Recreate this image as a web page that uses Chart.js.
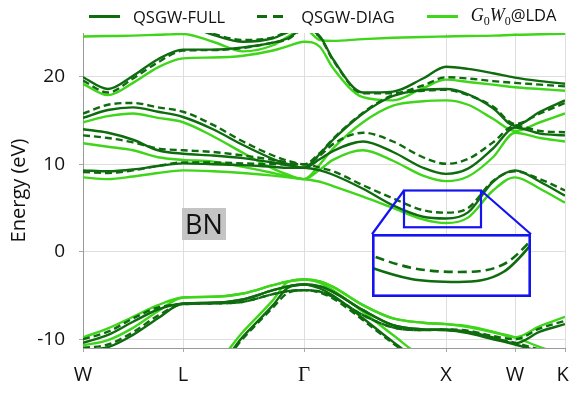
<!DOCTYPE html>
<html>
<head>
<meta charset="utf-8">
<script src="https://cdn.jsdelivr.net/npm/chart.js@4.4.1/dist/chart.umd.min.js"></script>
<style>
body { margin: 0; background: #fff; }
#wrap { position: relative; width: 569px; height: 393px; overflow: hidden; }
#legend { position: absolute; left: 89px; top: 4px; height: 24px; display: flex; align-items: center;
  font-family: "Open Sans", sans-serif; font-size: 16.5px; color: #111; white-space: nowrap; }
#legend .item { display: flex; align-items: center; margin-right: 32px; }
#legend .swatch { width: 31px; height: 3px; margin-right: 13px; }
#legend i { font-family: "Liberation Serif", serif; font-size: 18px; }
#legend sub { font-family: "Liberation Serif", serif; font-size: 12px; }
#bn { position: absolute; left: 182px; top: 208px; width: 44px; height: 32px; background: #c4c4c4;
  font-family: "Open Sans", sans-serif; font-size: 27px; line-height: 32px; text-align: center; color: #111; }
#inset { position: absolute; background: #fff; }
</style>
</head>
<body>
<div id="wrap">
  <canvas id="c" width="569" height="393"></canvas>
  <div id="legend"></div>
  <div id="bn">BN</div>
  <div id="inset"><canvas id="ci"></canvas></div>
</div>
<script>
// k-path positions (arbitrary path units) and high symmetry points
var kPos = [0, 25, 50, 75, 100, 130, 160, 190, 205, 221, 237, 250, 280, 310, 340, 363, 385, 410, 432, 457, 482];
var kTicks = [0, 100, 221, 363, 432, 482];
var kLabels = ['W', 'L', 'Γ', 'X', 'W', 'K'];
var eTicks = [-10, 0, 10, 20];

// QSGW-FULL bands (eV)
var fullVB1 = [-12.0, -12.6, -13.2, -13.6, -13.8, -13.5, -9.7, -6.1, -4.1, -3.75, -4.2, -5.0, -7.6, -10.3, -12.6, -13.0, -12.6, -12.0, -11.6, -12.0, -12.4];
var fullVB2 = [-11.2, -10.9, -9.5, -7.6, -5.91, -5.83, -5.45, -4.39, -3.95, -3.74, -3.95, -4.58, -6.67, -8.38, -8.87, -8.95, -9.3, -10.0, -10.6, -11.4, -12.0];
var fullVB3 = [-10.4, -9.5, -8.0, -6.6, -5.91, -5.83, -5.45, -4.39, -3.95, -3.74, -3.95, -4.58, -6.67, -8.38, -8.87, -8.95, -9.14, -9.79, -10.47, -9.14, -8.27];
var fullCB1 = [9.3, 9.2, 9.4, 9.8, 10.1, 10.0, 9.9, 9.7, 9.6, 9.6, 9.3, 8.8, 7.2, 5.3, 4.0, 3.8, 4.5, 8.0, 9.3, 8.0, 6.4];
var fullCB2 = [14.0, 13.6, 12.8, 11.6, 11.2, 11.0, 10.7, 10.2, 9.9, 9.6, 10.6, 11.5, 12.6, 11.4, 9.6, 8.9, 9.5, 11.8, 14.2, 13.5, 13.3];
var fullCB3 = [15.3, 16.2, 16.5, 16.0, 15.4, 14.0, 12.2, 10.6, 10.0, 9.6, 11.2, 12.8, 15.8, 17.8, 18.5, 18.6, 18.0, 16.4, 14.4, 16.0, 17.3];
var fullCB4 = [19.94, 18.6, 20.1, 22.0, 23.1, 23.1, 23.36, 23.9, 24.4, 25.5, 24.6, 22.0, 18.2, 18.3, 19.8, 21.15, 20.9, 20.4, 19.9, 19.5, 19.2];
var fullCB5 = [27.0, 26.8, 26.6, 26.3, 26.0, 24.8, 24.0, 24.4, 25.1, 25.8, 26.5, 27.0, 27.5, 27.5, 27.5, 27.5, 27.5, 27.5, 27.5, 27.5, 27.5];

// QSGW-DIAG bands (eV)
var diagVB1 = [-12.2, -12.8, -13.4, -13.8, -14.0, -13.7, -9.9, -6.37, -4.69, -4.39, -4.69, -5.34, -7.81, -10.47, -12.75, -13.2, -12.8, -12.2, -11.8, -12.2, -12.6];
var diagVB2 = [-11.0, -10.6, -9.2, -7.3, -5.99, -5.91, -5.72, -4.85, -4.5, -4.39, -4.55, -5.15, -7.24, -8.65, -8.95, -8.87, -9.2, -9.9, -10.4, -11.2, -11.9];
var diagVB3 = [-10.0, -9.14, -7.62, -6.37, -5.99, -5.91, -5.72, -4.85, -4.5, -4.39, -4.55, -5.15, -7.24, -8.65, -8.95, -8.87, -9.03, -9.64, -10.0, -8.76, -7.89];
var diagCB1 = [9.1, 9.0, 9.3, 9.8, 10.2, 10.2, 10.1, 10.0, 10.0, 10.0, 9.6, 9.2, 7.6, 6.1, 4.75, 4.47, 5.0, 8.1, 9.2, 8.3, 7.0];
var diagCB2 = [13.3, 13.0, 12.5, 11.8, 11.6, 11.4, 11.0, 10.5, 10.2, 10.0, 11.0, 12.3, 13.6, 12.6, 10.8, 10.05, 10.6, 12.5, 14.4, 13.8, 13.66];
var diagCB3 = [15.8, 16.8, 17.0, 16.5, 16.0, 14.5, 12.6, 11.0, 10.4, 10.0, 11.3, 12.9, 15.9, 17.9, 18.4, 18.5, 17.9, 16.6, 14.6, 15.8, 17.0];
var diagCB4 = [19.56, 18.2, 19.8, 21.65, 22.98, 23.05, 23.3, 23.9, 24.3, 25.4, 24.5, 21.9, 18.1, 18.1, 19.0, 19.94, 19.8, 19.5, 19.3, 19.1, 18.9];
var diagCB5 = [27.0, 26.8, 26.6, 26.3, 26.0, 24.9, 24.2, 24.5, 25.2, 25.8, 26.5, 27.0, 27.5, 27.5, 27.5, 27.5, 27.5, 27.5, 27.5, 27.5, 27.5];

// G0W0@LDA bands (eV)
var gwVB1 = [-11.6, -12.2, -12.8, -13.2, -13.4, -12.9, -9.14, -5.53, -3.44, -3.17, -3.55, -4.39, -6.86, -9.52, -12.0, -12.5, -12.1, -11.5, -11.1, -11.5, -11.9];
var gwVB2 = [-10.7, -10.1, -8.7, -6.8, -5.23, -5.15, -4.77, -3.82, -3.4, -3.17, -3.4, -4.01, -6.10, -7.62, -8.11, -8.27, -8.6, -9.2, -9.79, -10.9, -11.8];
var gwVB3 = [-9.79, -8.76, -7.43, -6.10, -5.23, -5.15, -4.77, -3.82, -3.4, -3.17, -3.4, -4.01, -6.10, -7.62, -8.11, -8.27, -8.50, -9.14, -9.79, -8.50, -7.43];
var gwCB1 = [8.5, 8.3, 8.6, 9.0, 9.3, 9.2, 9.0, 8.7, 8.5, 8.3, 8.0, 7.5, 6.3, 5.0, 3.7, 3.28, 3.9, 7.0, 8.5, 7.2, 5.6];
var gwCB2 = [12.4, 12.0, 11.6, 10.8, 10.5, 10.3, 9.7, 9.0, 8.6, 8.3, 9.4, 10.5, 11.6, 10.4, 8.7, 8.07, 8.6, 10.8, 13.6, 13.0, 12.6];
var gwCB3 = [14.8, 15.5, 15.8, 15.3, 14.8, 13.2, 11.3, 9.5, 8.8, 8.3, 10.0, 11.8, 14.8, 16.7, 17.2, 17.3, 16.8, 15.2, 13.8, 14.8, 15.8];
var gwCB4 = [19.18, 17.9, 19.3, 21.08, 22.1, 22.2, 22.4, 23.0, 23.5, 24.0, 23.4, 21.0, 17.66, 17.3, 18.7, 19.67, 19.4, 19.1, 18.8, 18.6, 18.4];
var gwCB5 = [24.6, 24.65, 24.7, 24.8, 24.88, 24.0, 22.9, 23.6, 24.6, 25.5, 24.2, 24.1, 24.3, 24.45, 24.55, 24.6, 24.65, 24.7, 24.8, 24.85, 24.9];

// zoom window [kMin, kMax, eMin, eMax] and where the magnified copy sits
var zoomBox = [321, 398, 2.8, 7.0];
var insetBox = [289, 448, -5.2, 2.0];

var darkGreen = '#0e6b0e';
var lightGreen = '#3fd51a';
var boxBlue = '#1414f0';

var seriesList = [
  { name: 'QSGW-FULL', color: darkGreen, dash: [],
    bands: [fullVB1, fullVB2, fullVB3, fullCB1, fullCB2, fullCB3, fullCB4, fullCB5] },
  { name: 'QSGW-DIAG', color: darkGreen, dash: [7, 4],
    bands: [diagVB1, diagVB2, diagVB3, diagCB1, diagCB2, diagCB3, diagCB4, diagCB5] },
  { name: '<i>G</i><sub>0</sub><i>W</i><sub>0</sub>@LDA', color: lightGreen, dash: [],
    bands: [gwVB1, gwVB2, gwVB3, gwCB1, gwCB2, gwCB3, gwCB4, gwCB5] }
];

function toPoints(band) {
  return band.map(function (e, i) { return { x: kPos[i], y: e }; });
}

var datasets = [];
seriesList.forEach(function (s) {
  s.bands.forEach(function (band) {
    datasets.push({
      data: toPoints(band),
      borderColor: s.color,
      borderWidth: 2.4,
      borderDash: s.dash,
      pointRadius: 0,
      fill: false,
      cubicInterpolationMode: 'monotone'
    });
  });
});

// legend
var legend = document.getElementById('legend');
seriesList.forEach(function (s) {
  var item = document.createElement('div');
  item.className = 'item';
  var sw = document.createElement('div');
  sw.className = 'swatch';
  if (s.dash.length) {
    sw.style.background = 'repeating-linear-gradient(to right,' + s.color + ' 0 10px, transparent 10px 16px)';
  } else {
    sw.style.background = s.color;
  }
  var label = document.createElement('span');
  label.innerHTML = s.name;
  item.appendChild(sw);
  item.appendChild(label);
  legend.appendChild(item);
});

var zoomPlugin = {
  id: 'zoomBox',
  afterDatasetsDraw: function (chart) {
    var ctx = chart.ctx, xs = chart.scales.x, ys = chart.scales.y;
    var x0 = xs.getPixelForValue(zoomBox[0]), x1 = xs.getPixelForValue(zoomBox[1]);
    var y0 = ys.getPixelForValue(zoomBox[3]), y1 = ys.getPixelForValue(zoomBox[2]);
    var bx0 = xs.getPixelForValue(insetBox[0]), bx1 = xs.getPixelForValue(insetBox[1]);
    var by0 = ys.getPixelForValue(insetBox[3]);
    ctx.save();
    ctx.strokeStyle = boxBlue;
    ctx.lineWidth = 2.2;
    ctx.strokeRect(x0, y0, x1 - x0, y1 - y0);
    ctx.beginPath();
    ctx.moveTo(x0, y0); ctx.lineTo(bx0, by0);
    ctx.moveTo(x1, y0); ctx.lineTo(bx1, by0);
    ctx.stroke();
    ctx.restore();
  }
};

var tickFont = function (ctx) {
  var i = ctx.tick ? kTicks.indexOf(ctx.tick.value) : -1;
  if (i >= 0 && kLabels[i] === 'Γ') return { family: 'Liberation Serif', size: 21 };
  return { family: 'Open Sans', size: 20 };
};

var chart = new Chart(document.getElementById('c'), {
  type: 'line',
  data: { datasets: datasets },
  options: {
    responsive: false,
    animation: false,
    events: [],
    layout: { padding: { top: 33, right: 4, left: 0, bottom: 0 } },
    plugins: { legend: { display: false }, tooltip: { enabled: false } },
    scales: {
      x: {
        type: 'linear', min: 0, max: 482,
        afterBuildTicks: function (sc) { sc.ticks = kTicks.map(function (v) { return { value: v }; }); },
        afterFit: function (sc) { sc.height = 45; sc.paddingLeft = 0; sc.paddingRight = 0; },
        grid: { color: '#dedede', tickLength: 4, tickColor: '#aaa' },
        border: { color: '#9a9a9a' },
        ticks: {
          padding: 11, color: '#111', maxRotation: 0, autoSkip: false, font: tickFont,
          callback: function (v) {
            var i = kTicks.indexOf(v);
            // last label sits at the right edge; pad it so it stays inside the page
            return i === kTicks.length - 1 ? kLabels[i] + '\u2005' : kLabels[i];
          }
        }
      },
      y: {
        min: -11, max: 25,
        afterBuildTicks: function (sc) { sc.ticks = eTicks.map(function (v) { return { value: v }; }); },
        afterFit: function (sc) { sc.width = 83; sc.paddingTop = 0; sc.paddingBottom = 0; },
        grid: { color: '#dedede', tickLength: 4, tickColor: '#aaa' },
        border: { color: '#9a9a9a' },
        ticks: { padding: 14, color: '#111', font: { family: 'Open Sans', size: 19 } },
        title: { display: true, text: 'Energy (eV)', color: '#111',
          font: { family: 'Open Sans', size: 20 }, padding: { top: 7, bottom: 0 } }
      }
    }
  },
  plugins: [zoomPlugin]
});

// magnified inset, placed over insetBox in main chart coordinates
var xs = chart.scales.x, ys = chart.scales.y;
var iL = xs.getPixelForValue(insetBox[0]), iR = xs.getPixelForValue(insetBox[1]);
var iT = ys.getPixelForValue(insetBox[3]), iB = ys.getPixelForValue(insetBox[2]);
var holder = document.getElementById('inset');
holder.style.left = Math.round(iL) + 'px';
holder.style.top = Math.round(iT) + 'px';
holder.style.width = Math.round(iR - iL) + 'px';
holder.style.height = Math.round(iB - iT) + 'px';
var ci = document.getElementById('ci');
ci.width = Math.round(iR - iL);
ci.height = Math.round(iB - iT);

var borderPlugin = {
  id: 'insetBorder',
  afterDraw: function (c) {
    var ctx = c.ctx;
    ctx.save();
    ctx.strokeStyle = boxBlue;
    ctx.lineWidth = 2.6;
    ctx.strokeRect(1.3, 1.3, c.width - 2.6, c.height - 2.6);
    ctx.restore();
  }
};

new Chart(ci, {
  type: 'line',
  data: {
    datasets: [
      { data: toPoints(fullCB1), borderColor: darkGreen, borderWidth: 2.6, pointRadius: 0, cubicInterpolationMode: 'monotone' },
      { data: toPoints(diagCB1), borderColor: darkGreen, borderWidth: 2.6, borderDash: [9, 5], pointRadius: 0, cubicInterpolationMode: 'monotone' }
    ]
  },
  options: {
    responsive: false,
    animation: false,
    events: [],
    layout: { padding: 0 },
    plugins: { legend: { display: false }, tooltip: { enabled: false } },
    scales: {
      x: { type: 'linear', display: false, min: zoomBox[0], max: zoomBox[1] },
      y: { display: false, min: zoomBox[2], max: zoomBox[3] }
    }
  },
  plugins: [borderPlugin]
});
</script>
</body>
</html>
